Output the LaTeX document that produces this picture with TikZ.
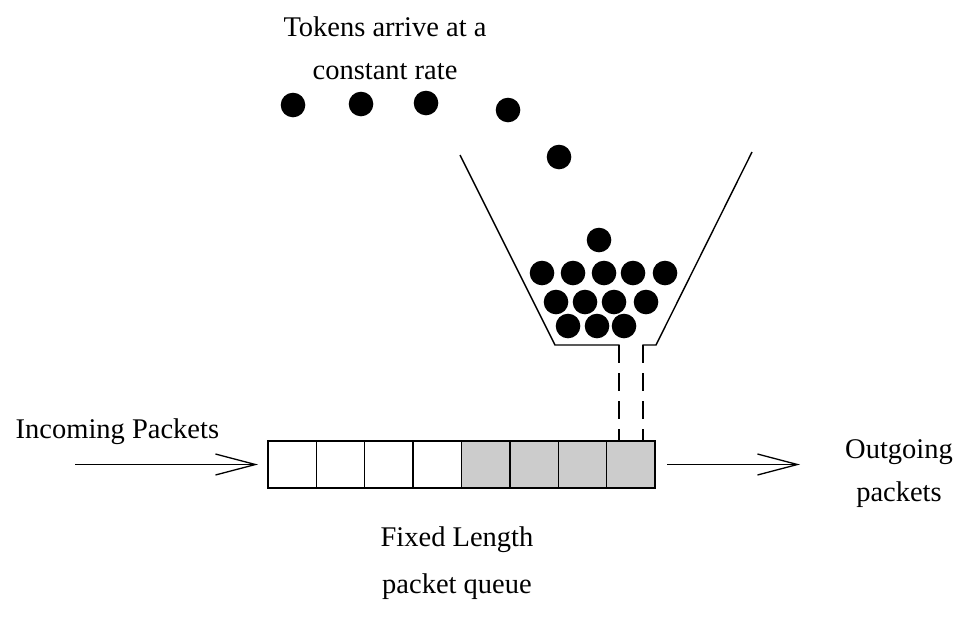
\documentclass[tikz,border=0pt]{standalone}
\usepackage{fontspec}
\setmainfont{Liberation Serif}
\usetikzlibrary{arrows.meta}
\begin{document}
\begin{tikzpicture}[x=1pt,y=-1pt,
  line width=1.4pt,
  cell/.style={draw, line width=1.4pt, minimum width=48.4pt, minimum height=47pt, inner sep=0pt, outer sep=0pt},
  full/.style={cell, fill=gray!40},
  token/.style={fill=black, draw=none},
  lbl/.style={font=\fontsize{28.5}{42}\selectfont, inner sep=0pt, align=center},
  flow/.style={line width=1.3pt, -{Straight Barb[length=40pt,width=21pt,line width=1.3pt]}, shorten >=10pt},
  funnel/.style={line width=1.4pt},
  drip/.style={line width=1.4pt, dash pattern=on 18pt off 10pt}
]
\useasboundingbox (0,0) rectangle (976,622);
% queue
\foreach \i in {1,...,4} {
  \node[cell, anchor=north west] (c\i) at ({268+48.375*(\i-1)},441) {};
}
\foreach \i in {5,...,8} {
  \node[full, anchor=north west] (c\i) at ({268+48.375*(\i-1)},441) {};
}
% arrows
\coordinate (inStart) at (75,464.5);
\coordinate (outEnd) at (810,464.5);
\draw[flow] (inStart) -- (c1.west);
\draw[flow] ([xshift=12pt]c8.east) -- (outEnd);
% funnel
\coordinate (lt) at (460,155);
\coordinate (lb) at (555,345);
\coordinate (li) at (619,345);
\coordinate (rt) at (752,152);
\coordinate (rb) at (656,345);
\coordinate (ri) at (643,345);
\coordinate (ld) at (619,441);
\coordinate (rd) at (643,441);
\draw[funnel] (lt) -- (lb) -- (li) -- (619,362);
\draw[funnel] (rt) -- (rb) -- (ri) -- (643,362);
\draw[drip] (li) -- (ld);
\draw[drip] (ri) -- (rd);
% tokens
\foreach \p in {(293,105),(361,104),(426,103),(508,110),(559,157),(599,240),
  (542,273),(573,273),(604,273),(633,273),(665,273),
  (556,302),(585,302),(614,302),(646,302),
  (568,326),(597,326),(624,326)} {
  \fill[token] \p circle (12.3pt);
}
% labels
\node[lbl, font=\fontsize{28.5}{43}\selectfont] (tok) at (385,48) {Tokens arrive at a\\constant rate};
\node[lbl, anchor=west] (inc) at (15,432) {Incoming Packets};
\node[lbl, font=\fontsize{28.5}{43}\selectfont] (outg) at (899,474) {Outgoing\\packets};
\node[lbl, font=\fontsize{28.5}{47}\selectfont] (fix) at (457,563) {Fixed Length\\packet queue};
\end{tikzpicture}
\end{document}
